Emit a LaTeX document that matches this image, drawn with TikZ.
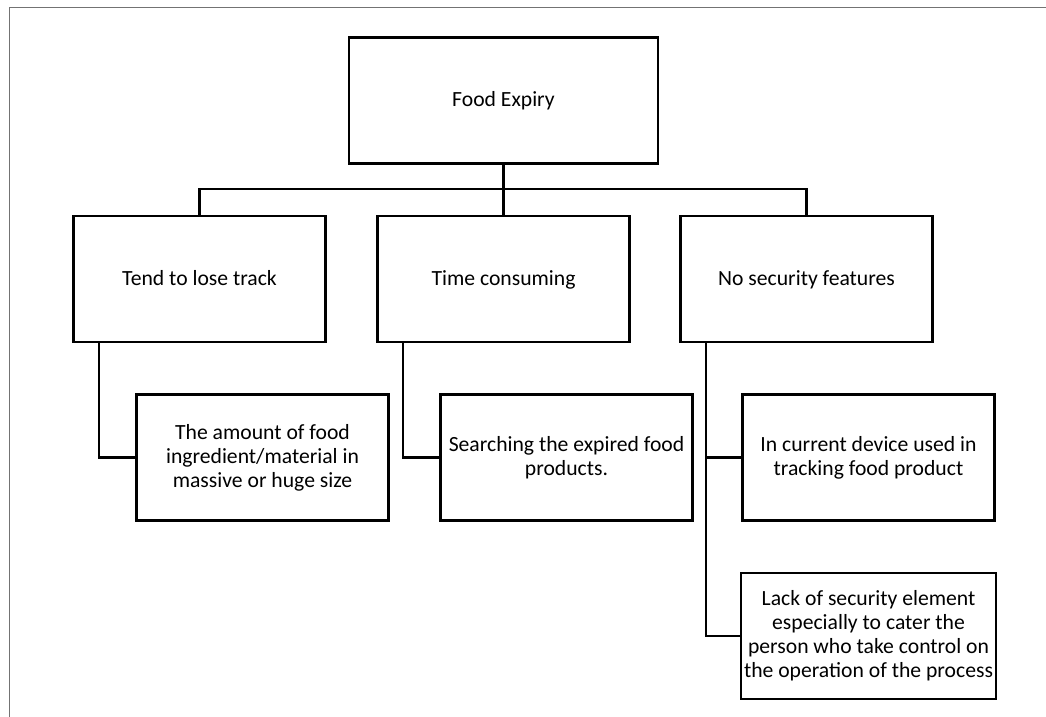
\documentclass[tikz,border=0pt]{standalone}
\usepackage{fontspec}
\setmainfont{Carlito}
\tikzset{
    box/.style={draw, line width=1.5pt, minimum height=126*0.025cm,
                minimum width=252*0.025cm, inner sep=2pt, align=center,
                font=\fontsize{15.4}{17}\selectfont},
    single/.style={box, text height=2.1ex, text depth=.3ex},
    link/.style={line width=1.5pt},
    frame/.style={draw=black!55, line width=1.2pt},
}
\begin{document}
\begin{tikzpicture}[x=0.025cm, y=-0.025cm]

    \useasboundingbox (0,0) rectangle (1046,717);
    \draw[frame] (9.5,717) -- (9.5,7.5) -- (1046,7.5);

    % root and first level
    \node[single, minimum width=309*0.025cm] (root) at (503.5,100.5) {Food Expiry};
    \node[single] (track) at (199.5,279) {Tend to lose track};
    \node[single] (time) at (503.5,279) {Time consuming};
    \node[single] (secure) at (806.5,279) {No security features};

    % second level
    \node[box] (amount) at (262.5,457.5) {The amount of food\\ingredient/material in\\massive or huge size};
    \node[box] (search) at (566.5,457.5) {Searching the expired food\\products.};
    \node[box] (device) at (868.5,457.5) {In current device used in\\tracking food product};
    \node[box] (lack) at (868.5,636) {Lack of security element\\especially to cater the\\person who take control on\\the operation of the process};

    \coordinate (bus) at (503.5,189);
    \draw[link] (root) -- (time);
    \draw[link] (track.north) |- (bus) -| (secure.north);

    \draw[link] (track.south -| 99,0) |- (amount.west);
    \draw[link] (time.south -| 403,0) |- (search.west);
    \draw[link] (secure.south -| 706,0) |- (device.west);
    \draw[link] (secure.south -| 706,0) |- (lack.west);

\end{tikzpicture}
\end{document}
